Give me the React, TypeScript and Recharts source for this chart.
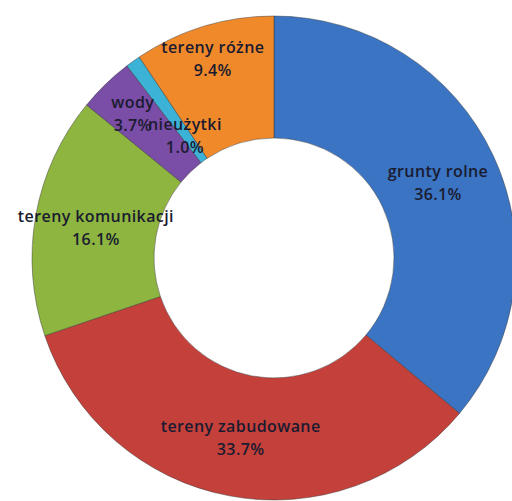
import { PieChart, Pie, Cell } from "recharts";

const categories = ["grunty rolne", "tereny zabudowane", "tereny komunikacji", "wody", "nieużytki", "tereny różne"];
const shares = [36.1, 33.7, 16.1, 3.7, 1.0, 9.4];
const colors = ["#3A74C3", "#C4403A", "#8DB53F", "#7A4DA6", "#3BB2D6", "#F0892A"];

// where across the ring each label sits (0 = hole edge, 1 = outer edge)
const labelDepth = [0.5, 0.5, 0.5, 0.68, 0.27, 0.74];

const data = categories.map((name, i) => ({ name, value: shares[i] }));

const RADIAN = Math.PI / 180;

function renderLabel(props: any) {
  const { cx, cy, midAngle, innerRadius, outerRadius, index, value, name } = props;
  const r = innerRadius + (outerRadius - innerRadius) * labelDepth[index];
  const x = cx + r * Math.cos(-midAngle * RADIAN);
  const y = cy + r * Math.sin(-midAngle * RADIAN);
  return (
    <text
      x={x}
      y={y}
      textAnchor="middle"
      fill="#1a1b30"
      fontFamily="'Open Sans', sans-serif"
      fontSize={16}
      fontWeight={600}
      letterSpacing={0.4}
    >
      <tspan x={x} dy={-4}>{name}</tspan>
      <tspan x={x} dy={23}>{`${Number(value).toFixed(1)}%`}</tspan>
    </text>
  );
}

export default function App() {
  return (
    <div style={{ position: "absolute", left: 0, top: 0, width: 512, height: 501, background: "#fff" }}>
      <PieChart width={512} height={501} margin={{ top: 0, right: 0, bottom: 0, left: 0 }}>
        <Pie
          data={data}
          dataKey="value"
          nameKey="name"
          cx={274}
          cy={258}
          innerRadius={120}
          outerRadius={242}
          startAngle={90}
          endAngle={-270}
          stroke="rgba(50,50,50,0.45)"
          strokeWidth={1}
          label={renderLabel}
          labelLine={false}
          isAnimationActive={false}
        >
          {data.map((d, i) => (
            <Cell key={d.name} fill={colors[i]} />
          ))}
        </Pie>
      </PieChart>
    </div>
  );
}
